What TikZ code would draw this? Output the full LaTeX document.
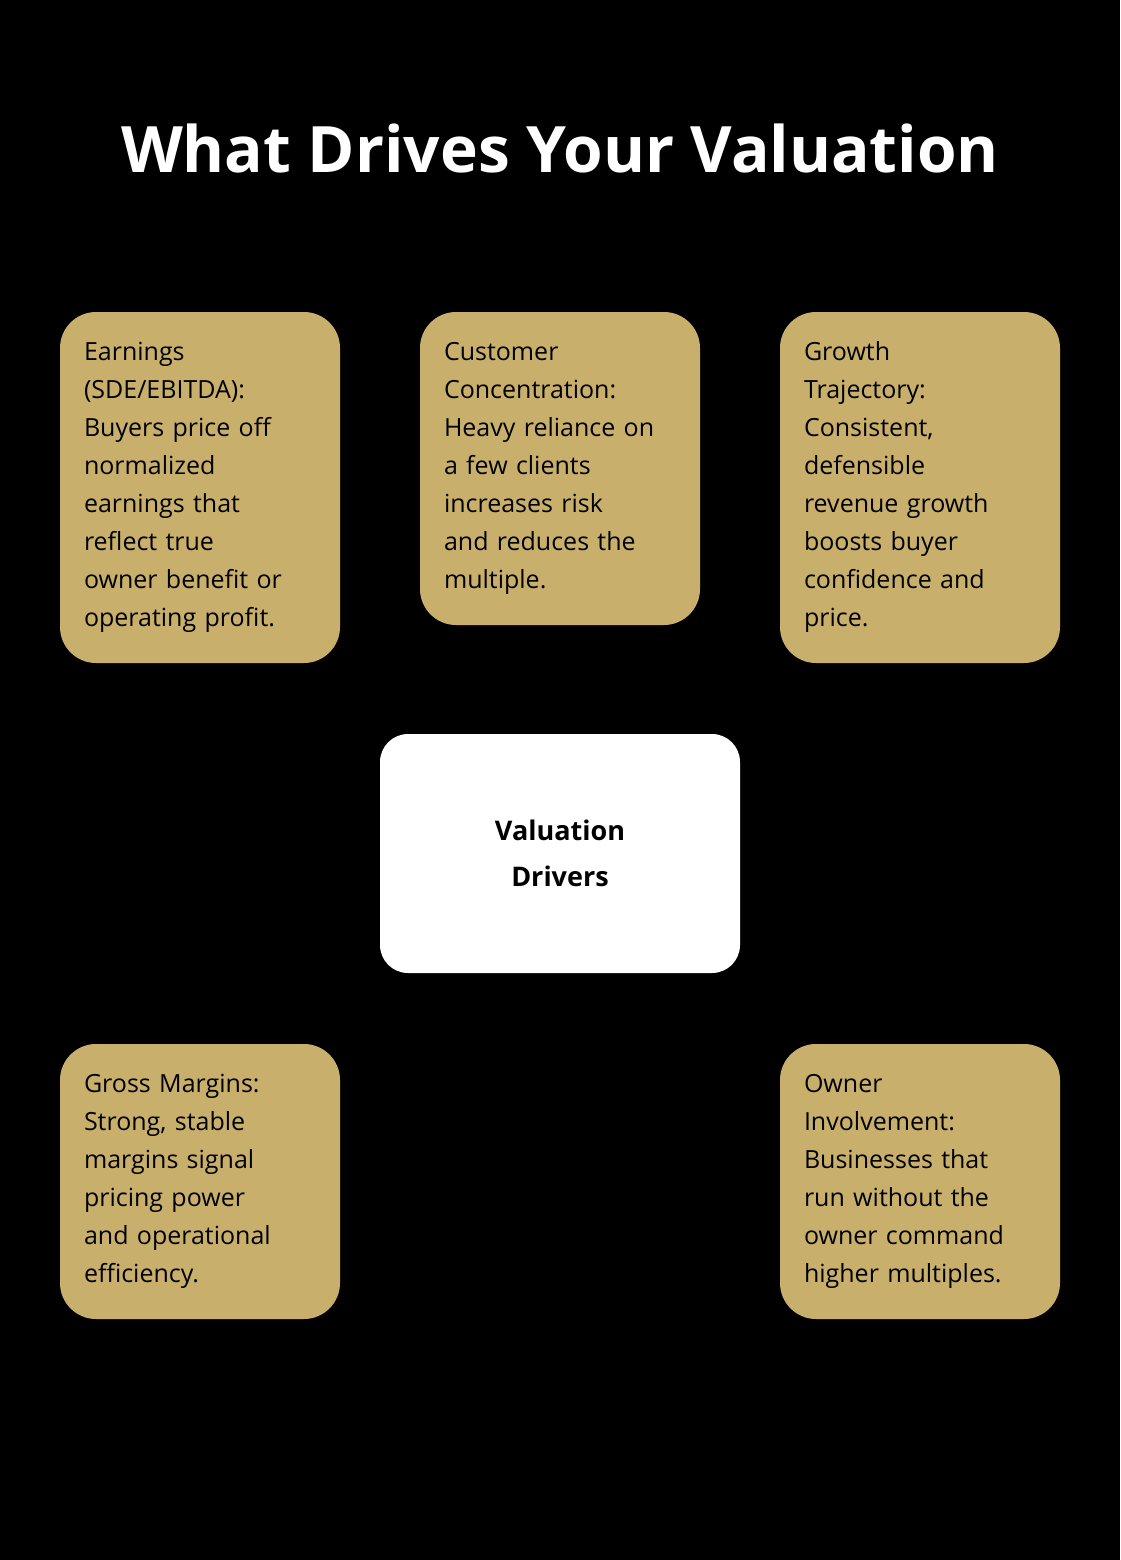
\documentclass[tikz,border=0pt]{standalone}
\usepackage{fontspec}
\setmainfont{Open Sans}
\pgfdeclarelayer{bg}\pgfsetlayers{bg,main}
\definecolor{gold}{HTML}{C8B06C}
\definecolor{dash}{HTML}{6E6E6E}
\begin{document}
\begin{tikzpicture}[x=1pt,y=-1pt,
  card/.style={fill=gold,rounded corners=36pt,minimum width=280pt,text width=232pt,align=left,inner sep=0pt,font=\fontsize{25}{38}\selectfont,text=black},
  hub/.style={fill=white,rounded corners=28pt,minimum width=360pt,minimum height=239pt,align=center,font=\fontsize{27}{46}\selectfont\bfseries},
  link/.style={draw=dash,line width=3pt,dash pattern=on 7pt off 6pt}]
\fill[black] (0,0) rectangle (1120,1560);
\useasboundingbox (0,0) rectangle (1120,1560);
\node (t) at (560,148) {\fontsize{64}{70}\selectfont\bfseries\color{white}What Drives Your Valuation};
\node[hub] (c) at (560,853.5) {Valuation\\Drivers};
\node[card,minimum height=351pt] (e) at (200,487.5) {Earnings\\(SDE/EBITDA):\\Buyers price off\\normalized\\earnings that\\reflect true\\owner benefit or\\operating profit.};
\node[card,minimum height=313pt] (m) at (560,468.5) {Customer\\Concentration:\\Heavy reliance on\\a few clients\\increases risk\\and reduces the\\multiple.};
\node[card,minimum height=351pt] (g) at (920,487.5) {Growth\\Trajectory:\\Consistent,\\defensible\\revenue growth\\boosts buyer\\confidence and\\price.};
\node[card,minimum height=275pt] (gm) at (200,1181.5) {Gross Margins:\\Strong, stable\\margins signal\\pricing power\\and operational\\efficiency.};
\node[card,minimum height=275pt] (o) at (920,1181.5) {Owner\\Involvement:\\Businesses that\\run without the\\owner command\\higher multiples.};
\begin{pgfonlayer}{bg}
\foreach \n in {e,m,g,gm,o} \draw[link] (\n.center) -- (c.center);
\end{pgfonlayer}
\end{tikzpicture}
\end{document}
